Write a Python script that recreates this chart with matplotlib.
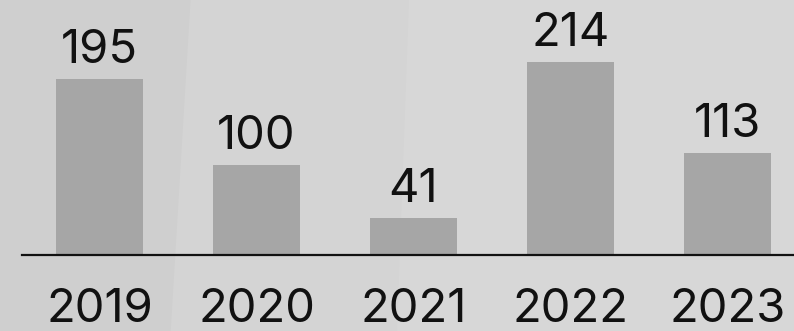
import matplotlib
matplotlib.use("Agg")
import matplotlib.pyplot as plt
from matplotlib.patches import Polygon

years = ["2019", "2020", "2021", "2022", "2023"]
values = [195, 100, 41, 214, 113]

BG = "#d4d4d4"
BAR = "#a6a6a6"
FONT = "Inter"
PX_PER_UNIT = 0.9025  # pixel height of one data unit

fig = plt.figure(figsize=(7.94, 3.31), dpi=100, facecolor=BG)

# faint diagonal shading in the background
fig.patches.append(Polygon([[0, 0], [0.215, 0], [0.24, 1], [0, 1]], closed=True,
                           transform=fig.transFigure, facecolor="#cfcfcf",
                           edgecolor="none", zorder=-10))
fig.patches.append(Polygon([[0.5, 0], [1, 0], [1, 1], [0.515, 1]], closed=True,
                           transform=fig.transFigure, facecolor="#d7d7d7",
                           edgecolor="none", zorder=-10))

ax = fig.add_axes([22 / 794, 76 / 331, 772 / 794, 255 / 331])
ax.set_zorder(5)
ax.patch.set_alpha(0)

x = list(range(len(years)))
ax.bar(x, values, width=0.555, color=BAR, zorder=2)

for xi, v in zip(x, values):
    ax.text(xi, v + 16 / PX_PER_UNIT, str(v), ha="center", va="baseline",
            fontsize=34, family=FONT, color="#111111")

# year labels under the baseline
for xi, yr in zip(x, years):
    ax.text(xi, -67 / PX_PER_UNIT, yr, ha="center", va="baseline",
            fontsize=34, family=FONT, color="#111111", clip_on=False)

ax.set_xlim(-0.494, 4.424)
ax.set_ylim(0, 282.5)
ax.axhline(0, color="#111111", lw=1.6, zorder=3, clip_on=False)

ax.set_xticks([])
ax.set_yticks([])
for s in ax.spines.values():
    s.set_visible(False)

fig.savefig("out.png", dpi=100, facecolor=BG)
